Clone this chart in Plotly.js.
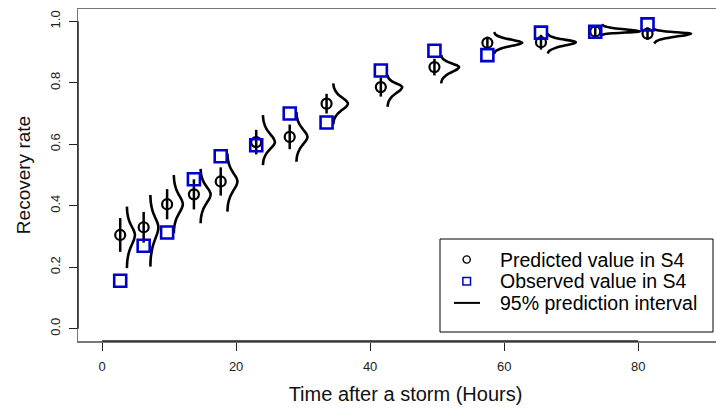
<!DOCTYPE html>
<html>
<head>
<meta charset="utf-8">
<script src="https://cdn.plot.ly/plotly-3.0.1.min.js"></script>
<style>html,body{margin:0;padding:0;background:#fff;overflow:hidden;}#wrap{width:716px;height:412px;overflow:hidden;}#chart{width:736px;height:412px;}</style>
</head>
<body>
<div id="wrap"><div id="chart"></div></div>
<script>
// Data
const hours     = [2.7, 6.2, 9.7, 13.7, 17.7, 23.0, 28.0, 33.5, 41.6, 49.6, 57.5, 65.5, 73.6, 81.4];
const predicted = [0.305, 0.330, 0.405, 0.437, 0.479, 0.607, 0.624, 0.732, 0.786, 0.851, 0.930, 0.932, 0.967, 0.960];
const observed  = [0.156, 0.270, 0.313, 0.486, 0.561, 0.597, 0.700, 0.671, 0.840, 0.904, 0.890, 0.963, 0.966, 0.990];
const predBar   = [0.055, 0.050, 0.049, 0.049, 0.046, 0.040, 0.040, 0.032, 0.031, 0.027, 0.020, 0.024, 0.015, 0.020];
// 95% prediction interval density curves: top, bottom (rate) and peak width (hours)
const densTop    = [0.397, 0.435, 0.500, 0.520, 0.570, 0.695, 0.705, 0.798, 0.825, 0.890, 0.965, 0.960, 0.990, 0.975];
const densBottom = [0.197, 0.202, 0.310, 0.343, 0.381, 0.532, 0.543, 0.665, 0.722, 0.798, 0.895, 0.895, 0.955, 0.928];
const densWidth  = [1.2, 1.2, 1.35, 1.5, 1.5, 1.8, 1.65, 2.2, 2.2, 2.7, 4.2, 4.2, 5.7, 5.5];
const densOffset = 1.0;
// shape profile of a curve (relative position from top to bottom, relative width)
const profileT = [0, 0.12, 0.25, 0.35, 0.43, 0.5, 0.57, 0.65, 0.75, 0.88, 1];
const profileW = [0, 0.06, 0.28, 0.6, 0.88, 1, 0.88, 0.6, 0.28, 0.06, 0];

const xTicks = [0, 20, 40, 60, 80];
const yTicks = [0, 0.2, 0.4, 0.6, 0.8, 1.0];
const yTickText = ['0.0', '0.2', '0.4', '0.6', '0.8', '1.0'];
const legendLabels = ['Predicted value in S4', 'Observed value in S4', '95% prediction interval'];

const curveX = [], curveY = [];
hours.forEach((h, i) => {
  profileT.forEach((t, k) => {
    const y = t <= 0.5
      ? densTop[i] + (predicted[i] - densTop[i]) * (t / 0.5)
      : predicted[i] + (densBottom[i] - predicted[i]) * ((t - 0.5) / 0.5);
    curveX.push(h + densOffset + profileW[k] * densWidth[i]);
    curveY.push(y);
  });
  curveX.push(null); curveY.push(null);
});

const FONT = 'Liberation Sans, Arial, sans-serif';
const W = 736, H = 412, M = {l: 78, r: 3, t: 9, b: 71};
const pw = W - M.l - M.r, ph = H - M.t - M.b;
const px = v => (v - M.l) / pw;      // pixel -> paper x
const py = v => (H - M.b - v) / ph;  // pixel -> paper y

const traces = [
  {x: curveX, y: curveY, mode: 'lines', type: 'scatter', showlegend: false,
   line: {color: '#000', width: 2.6, shape: 'spline', smoothing: 0.8}, hoverinfo: 'skip'},
  {x: hours, y: predicted, mode: 'markers', type: 'scatter', showlegend: false,
   marker: {symbol: 'circle-open', size: 10, color: '#000', line: {width: 2.2, color: '#000'}},
   error_y: {type: 'data', array: predBar, visible: true, width: 0, thickness: 2.5, color: '#000'}},
  {x: hours, y: observed, mode: 'markers', type: 'scatter', showlegend: false,
   marker: {symbol: 'square-open', size: 12, color: '#0000CD', line: {width: 2.6, color: '#0000CD'}}}
];

// manual legend (R style box)
const legRows = [259.5, 281.2, 302.9];
const legShapes = [
  {type: 'rect', xref: 'paper', yref: 'paper', x0: px(440), x1: px(713), y0: py(332), y1: py(239),
   line: {color: '#000', width: 1}, fillcolor: '#fff', layer: 'above'},
  {type: 'circle', xref: 'paper', yref: 'paper', xsizemode: 'pixel', ysizemode: 'pixel',
   xanchor: px(466.7), yanchor: py(legRows[0]), x0: -3.6, x1: 3.6, y0: -3.6, y1: 3.6,
   line: {color: '#000', width: 1.4}, layer: 'above'},
  {type: 'rect', xref: 'paper', yref: 'paper', xsizemode: 'pixel', ysizemode: 'pixel',
   xanchor: px(466.7), yanchor: py(legRows[1]), x0: -3.8, x1: 3.8, y0: -3.8, y1: 3.8,
   line: {color: '#0000CD', width: 1.5}, layer: 'above'},
  {type: 'line', xref: 'paper', yref: 'paper', x0: px(454), x1: px(480), y0: py(legRows[2]), y1: py(legRows[2]),
   line: {color: '#000', width: 2}, layer: 'above'}
];
const legAnnots = legendLabels.map((t, i) => ({
  text: t, xref: 'paper', yref: 'paper', x: px(498), y: py(legRows[i]),
  xanchor: 'left', yanchor: 'middle', showarrow: false,
  font: {family: FONT, size: 19.5, color: '#000'}
}));

const layout = {
  width: W, height: H,
  margin: M,
  paper_bgcolor: '#fff', plot_bgcolor: '#fff',
  font: {family: FONT, color: '#000'},
  showlegend: false,
  xaxis: {range: [-3.6, 94.16], tickvals: xTicks, ticks: 'outside', ticklen: 8, tickwidth: 1,
          tickcolor: '#222', showline: true, linecolor: '#777', linewidth: 1.5, mirror: true,
          showgrid: false, zeroline: false, ticklabelstandoff: 5,
          tickfont: {family: FONT, size: 13, color: '#222'},
          title: {text: 'Time after a storm (Hours)', font: {family: FONT, size: 20, color: '#111'}, standoff: 14}},
  yaxis: {range: [-0.04, 1.04], tickvals: yTicks, ticktext: yTickText, tickangle: -90,
          ticks: 'outside', ticklen: 8, tickwidth: 1, tickcolor: '#222',
          showline: true, linecolor: '#777', linewidth: 1.5, mirror: true,
          showgrid: false, zeroline: false, ticklabelstandoff: 3,
          tickfont: {family: FONT, size: 13, color: '#222'},
          title: {text: 'Recovery rate', font: {family: FONT, size: 19, color: '#111'}, standoff: 12}},
  shapes: [
    {type: 'line', xref: 'x', yref: 'paper', x0: xTicks[0], x1: xTicks[xTicks.length - 1], y0: 0, y1: 0,
     line: {color: '#222', width: 1.5}},
    {type: 'line', xref: 'paper', yref: 'y', x0: 0, x1: 0, y0: yTicks[0], y1: yTicks[yTicks.length - 1],
     line: {color: '#222', width: 1.5}}
  ].concat(legShapes),
  annotations: legAnnots
};

Plotly.newPlot('chart', traces, layout, {staticPlot: true, displayModeBar: false});
</script>
</body>
</html>
